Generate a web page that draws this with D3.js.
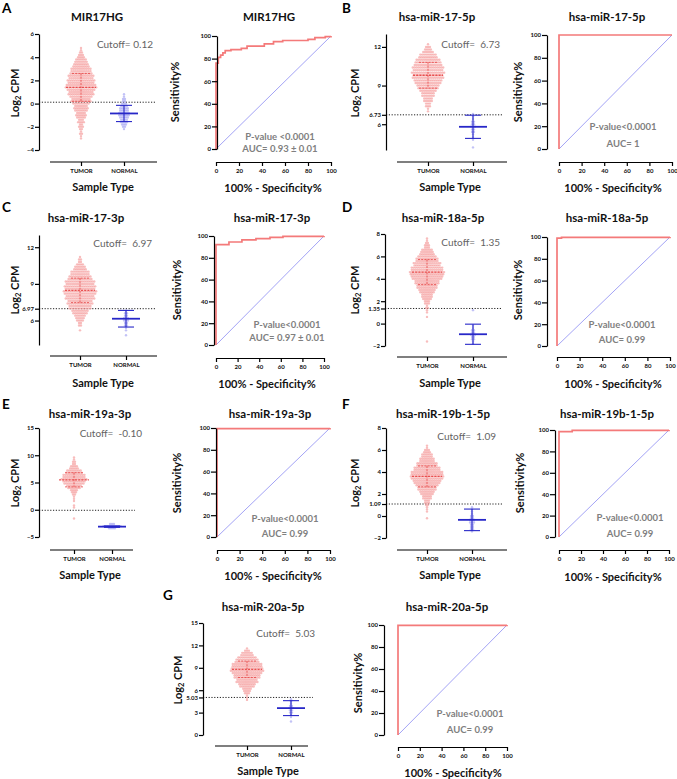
<!DOCTYPE html>
<html><head><meta charset="utf-8">
<script src="https://cdn.jsdelivr.net/npm/d3@7"></script>
<style>
body{margin:0;background:#fff;}
svg{font-family:Lato,"Open Sans",sans-serif;}
.title{font-size:11.5px;font-weight:bold;fill:#111;}
.letter{font-size:13.5px;font-weight:bold;fill:#000;}
.axlab{font-size:11px;font-weight:bold;fill:#111;}
.cut{font-size:10px;fill:#636363;white-space:pre;}
.pv{font-size:9.5px;font-weight:bold;fill:#808080;white-space:pre;}
</style></head><body>
<svg id="c" width="677" height="779"></svg>
<script>
// ---------------- DATA ----------------
const categories = ["TUMOR","NORMAL"];
const panelLetters = ["A","B","C","D","E","F","G"];
const panelNames = ["MIR17HG","hsa-miR-17-5p","hsa-miR-17-3p","hsa-miR-18a-5p","hsa-miR-19a-3p","hsa-miR-19b-1-5p","hsa-miR-20a-5p"];
const cutoffs = [0.12,6.73,6.97,1.35,-0.10,1.09,5.03];
const cutoffTexts = ["Cutoff= 0.12","Cutoff=  6.73","Cutoff=  6.97","Cutoff=  1.35","Cutoff=  -0.10","Cutoff=  1.09","Cutoff=  5.03"];
const cutoffTickLabels = [null,"6.73","6.97","1.35",null,"1.09","5.03"];
const yDomains = [[-4,6],[4,13],[4,13],[-2,8],[-5,15],[-2,8],[0,15]];
const yTickValues = [[-4,-2,0,2,4,6],[6,9,12],[6,9,12],[-2,0,2,4,6,8],[-5,0,5,10,15],[-2,0,2,4,6,8],[0,3,6,9,12,15]];
const tumorMean = [1.4,9.8,8.47,4.6,5.5,3.6,8.8];
const tumorSD = [1.2,1.0,1.0,1.12,1.3,0.95,1.1];
const normalMean = [-0.85,5.8,6.15,-0.95,-3.1,-0.35,3.6];
const normalSD = [0.7,0.9,0.68,0.9,0.12,0.98,1.0];
// binned sample counts (log2 CPM rows of the swarm)
const tumorBinStart = [-3.0,7.0,5.2,-1.6,-1.6,-0.4,4.7];
const tumorBinStep  = [0.2,0.2,0.2,0.2,0.4,0.2,0.3];
const tumorCounts = [
  [1,1,2,1,2,3,2,4,3,5,6,5,7,8,7,9,11,10,12,14,13,15,17,16,14,15,13,14,12,11,11,9,8,7,6,4,3,2,1,1],
  [1,1,3,3,5,5,7,7,9,11,12,14,15,17,16,18,16,17,15,14,13,10,9,6,4,3,1],
  [1,0,2,2,4,5,6,8,9,12,12,14,13,16,15,17,18,16,17,15,16,13,12,10,10,7,6,4,2,2,1],
  [1,0,0,0,0,0,0,0,0,0,0,1,0,1,1,2,1,3,3,5,6,6,8,9,11,11,13,13,16,17,18,19,17,17,14,15,12,12,10,8,7,6,3,3,2,1,1],
  [1,0,0,0,0,1,1,0,1,1,1,2,3,4,7,8,11,12,14,12,12,9,8,5,4,2,2,1,1],
  [0,1,0,0,1,1,1,2,3,3,5,5,7,8,10,10,12,14,15,17,18,17,17,14,14,11,11,8,8,6,6,4,3,1,1],
  [1,1,1,3,4,5,8,9,12,11,14,14,16,18,17,16,16,13,12,10,7,6,3,1]
];
const normalBinStart = [-2.2,4.2,4.8,-1.8,-3.4,-1.4,1.8];
const normalBinStep  = [0.2,0.2,0.2,0.2,0.4,0.2,0.3];
const normalCounts = [
  [1,2,3,4,4,5,6,6,5,5,4,3,2,2,1,1],
  [1,0,0,1,1,1,2,2,3,2,2,1,1,1],
  [1,0,1,1,2,2,3,3,2,2,1],
  [1,1,2,2,3,2,2,1,1,0,0,0,0,0,0,1],
  [4,10,3],
  [1,2,2,2,3,3,2,2,1,1,1,1],
  [1,0,1,1,2,2,3,2,1,1,1]
];
const rocTicks = [0,20,40,60,80,100];
const rocCurves = [
  [[0,0],[0,76],[2,76],[2,81],[4,81],[4,83],[6,83],[6,85],[8,85],[8,87],[13,87],[13,88],[22,88],[22,89],[27,89],[27,91],[42,91],[42,93],[50,93],[50,95],[58,95],[58,96],[80,96],[80,97],[86,97],[86,98.5],[95,98.5],[95,99.5],[100,99.5],[100,100]],
  [[0,0],[0,100],[100,100]],
  [[0,0],[0,92],[12,92],[12,94.5],[24,94.5],[24,96.4],[37,96.4],[37,97.6],[50,97.6],[50,98.8],[62,98.8],[62,99.7],[100,99.7],[100,100]],
  [[0,0],[0,99],[4,99],[4,99.6],[100,99.6],[100,100]],
  [[0,0],[0,99.5],[100,99.5],[100,100]],
  [[0,0],[0,98.5],[12,98.5],[12,99.7],[100,99.7],[100,100]],
  [[0,0],[0,99.6],[100,99.6],[100,100]]
];
const pValueTexts = ["P-value <0.0001","P-value<0.0001","P-value<0.0001","P-value<0.0001","P-value<0.0001","P-value<0.0001","P-value<0.0001"];
const aucTexts = ["AUC= 0.93 \u00b1 0.01","AUC= 1","AUC= 0.97 \u00b1 0.01","AUC= 0.99","AUC= 0.99","AUC= 0.99","AUC= 0.99"];

// ---------------- LAYOUT ----------------
const scatterLayout = [
  {lx:2,ly:13,tx:97,ty:21,ax:39,yT:34,yB:150,xY:162,xl0:50,xl1:157,xT:81,xN:124,slx:103,sly:191,ylx:15,yly:93,cx:153,cy:48,dotEnd:155},
  {lx:342,ly:13,tx:437,ty:21,ax:386,yT:34,yB:150,xY:162,xl0:397,xl1:507,xT:428,xN:473,slx:450,sly:191,ylx:355,yly:93,cx:500,cy:48,dotEnd:503},
  {lx:2,ly:212,tx:86,ty:222,ax:39,yT:235,yB:345,xY:356,xl0:50,xl1:157,xT:80,xN:126,slx:103,sly:387,ylx:15,yly:290,cx:152,cy:247,dotEnd:155},
  {lx:342,ly:212,tx:443,ty:222,ax:385,yT:234,yB:346,xY:357,xl0:397,xl1:507,xT:427,xN:473,slx:450,sly:387,ylx:355,yly:290,cx:500,cy:246,dotEnd:502},
  {lx:2,ly:409,tx:90,ty:418,ax:39,yT:428,yB:537,xY:550,xl0:50,xl1:133,xT:74,xN:112,slx:90,sly:579,ylx:15,yly:483,cx:142,cy:437,dotEnd:135},
  {lx:342,ly:409,tx:443,ty:418,ax:386,yT:428,yB:538,xY:550,xl0:397,xl1:507,xT:427,xN:472,slx:450,sly:579,ylx:355,yly:483,cx:496,cy:440,dotEnd:502},
  {lx:163,ly:600,tx:263,ty:611,ax:203,yT:623,yB:735,xY:746,xl0:215,xl1:308,xT:247,xN:291,slx:268,sly:775,ylx:178,yly:680,cx:315,cy:637,dotEnd:313}
];
const rocLayout = [
  {tx:269,ty:21,ax:217,yT:36,yB:149,xY:162,x0:216,x1:331,slx:273,sly:192,ylx:175,yly:92,px:280,py:140,ay:152},
  {tx:607,ty:21,ax:547,yT:35,yB:149,xY:162,x0:559,x1:672,slx:613,sly:192,ylx:518,yly:92,px:623,py:130,ay:147},
  {tx:272,ty:222,ax:214,yT:236,yB:345,xY:358,x0:216,x1:324,slx:267,sly:388,ylx:177,yly:290,px:287,py:328,ay:341},
  {tx:607,ty:222,ax:547,yT:237,yB:346,xY:357,x0:557,x1:670,slx:613,sly:388,ylx:518,yly:290,px:622,py:328,ay:343},
  {tx:270,ty:418,ax:216,yT:428,yB:537,xY:550,x0:217,x1:330,slx:273,sly:580,ylx:177,yly:483,px:285,py:522,ay:537},
  {tx:607,ty:418,ax:555,yT:430,yB:537,xY:550,x0:559,x1:669,slx:613,sly:581,ylx:520,yly:483,px:630,py:521,ay:537},
  {tx:447,ty:611,ax:384,yT:625,yB:735,xY:747,x0:398,x1:507,slx:453,sly:777,ylx:358,yly:683,px:470,py:717,ay:733}
];

const svg = d3.select("#c");
const DX = 1.9;

function styleAxis(g){
  g.attr("font-family",null).attr("font-size",6).attr("font-weight","bold");
  g.selectAll("path,line").attr("stroke","#000").attr("stroke-width",1.2);
  g.selectAll("text").attr("fill","#111");
}

function drawScatter(i){
  const L = scatterLayout[i];
  const g = svg.append("g");
  const y = d3.scaleLinear().domain(yDomains[i]).range([L.yB, L.yT]);
  const x = d3.scalePoint().domain(categories).range([L.xT, L.xN]);
  g.append("text").attr("class","letter").attr("x",L.lx).attr("y",L.ly).text(panelLetters[i]);
  g.append("text").attr("class","title").attr("x",L.tx).attr("y",L.ty).attr("text-anchor","middle").text(panelNames[i]);
  g.append("line").attr("x1",L.ax).attr("x2",L.dotEnd).attr("y1",y(cutoffs[i])).attr("y2",y(cutoffs[i]))
    .attr("stroke","#222").attr("stroke-width",1).attr("stroke-dasharray","1.2,1.6");
  const mk = (counts,start,step)=>{const a=[];counts.forEach((n,k)=>{const v=start+k*step;for(let j=0;j<n;j++)a.push({v,off:j-(n-1)/2});});return a;};
  const tp = mk(tumorCounts[i],tumorBinStart[i],tumorBinStep[i]);
  const np = mk(normalCounts[i],normalBinStart[i],normalBinStep[i]);
  g.append("g").selectAll("circle").data(tp).join("circle")
    .attr("cx",d=>x("TUMOR")+d.off*DX).attr("cy",d=>y(d.v)).attr("r",1.2)
    .attr("fill","#f59a9a").attr("fill-opacity",0.65);
  g.append("g").selectAll("circle").data(np).join("circle")
    .attr("cx",d=>x("NORMAL")+d.off*DX).attr("cy",d=>y(d.v)).attr("r",1.2)
    .attr("fill","#9a9af0").attr("fill-opacity",0.6);
  const tx = x("TUMOR"), tm=tumorMean[i], ts=tumorSD[i];
  const eb = g.append("g").attr("stroke","#e53535").attr("stroke-opacity",0.8).attr("stroke-dasharray","2,1.2");
  eb.append("line").attr("x1",tx-15).attr("x2",tx+15).attr("y1",y(tm)).attr("y2",y(tm)).attr("stroke-width",1.3);
  eb.append("line").attr("x1",tx).attr("x2",tx).attr("y1",y(tm+ts)).attr("y2",y(tm-ts)).attr("stroke-width",0.9);
  [tm+ts,tm-ts].forEach(v=>eb.append("line").attr("x1",tx-9).attr("x2",tx+9).attr("y1",y(v)).attr("y2",y(v)).attr("stroke-width",0.9));
  const nx = x("NORMAL"), nm=normalMean[i], ns=normalSD[i];
  const nb = g.append("g").attr("stroke","#2727c8");
  nb.append("line").attr("x1",nx-14).attr("x2",nx+14).attr("y1",y(nm)).attr("y2",y(nm)).attr("stroke-width",1.8);
  nb.append("line").attr("x1",nx).attr("x2",nx).attr("y1",y(nm+ns)).attr("y2",y(nm-ns)).attr("stroke-width",1.1);
  [nm+ns,nm-ns].forEach(v=>nb.append("line").attr("x1",nx-8).attr("x2",nx+8).attr("y1",y(v)).attr("y2",y(v)).attr("stroke-width",1.1));
  const tv = yTickValues[i].slice(); if(cutoffTickLabels[i]) tv.push(cutoffs[i]);
  const ya = d3.axisLeft(y).tickValues(tv).tickSize(4).tickSizeOuter(0).tickPadding(1)
    .tickFormat(d=> (cutoffTickLabels[i] && d===cutoffs[i]) ? cutoffTickLabels[i] : d3.format("d")(d));
  const yg = g.append("g").attr("transform",`translate(${L.ax},0)`).call(ya); styleAxis(yg);
  const xa = d3.axisBottom(x).tickSize(4).tickSizeOuter(0).tickPadding(3);
  const xg = g.append("g").attr("transform",`translate(0,${L.xY})`).call(xa);
  xg.select(".domain").remove();
  xg.append("line").attr("x1",L.xl0).attr("x2",L.xl1);
  styleAxis(xg);
  g.append("text").attr("class","axlab").attr("x",L.slx).attr("y",L.sly).attr("text-anchor","middle").text("Sample Type");
  const yl = g.append("text").attr("class","axlab").attr("text-anchor","middle")
    .attr("transform",`translate(${L.ylx},${L.yly}) rotate(-90)`).attr("dy","0.35em");
  yl.append("tspan").text("Log");
  yl.append("tspan").attr("font-size","7.5px").attr("dy","2.5").text("2");
  yl.append("tspan").attr("dy","-2.5").text(" CPM");
  g.append("text").attr("class","cut").attr("x",L.cx).attr("y",L.cy).attr("text-anchor","end").text(cutoffTexts[i]);
}

function drawROC(i){
  const L = rocLayout[i];
  const g = svg.append("g");
  const x = d3.scaleLinear().domain([0,100]).range([L.x0,L.x1]);
  const y = d3.scaleLinear().domain([0,100]).range([L.yB,L.yT]);
  g.append("text").attr("class","title").attr("x",L.tx).attr("y",L.ty).attr("text-anchor","middle").text(panelNames[i]);
  g.append("path").datum([[0,0],[100,100]]).attr("fill","none")
    .attr("stroke","#8c8cf2").attr("stroke-width",0.8)
    .attr("d",d3.line().x(d=>x(d[0])).y(d=>y(d[1])));
  g.append("path").datum(rocCurves[i]).attr("fill","none").attr("stroke","#f47a7a").attr("stroke-width",1.7)
    .attr("d",d3.line().x(d=>x(d[0])).y(d=>y(d[1])));
  const ya = d3.axisLeft(y).tickValues(rocTicks).tickSize(5).tickSizeOuter(0).tickPadding(1);
  const yg = g.append("g").attr("transform",`translate(${L.ax},0)`).call(ya); styleAxis(yg);
  const xa = d3.axisBottom(x).tickValues(rocTicks).tickSize(4).tickSizeOuter(0).tickPadding(3);
  const xg = g.append("g").attr("transform",`translate(0,${L.xY})`).call(xa); styleAxis(xg);
  g.append("text").attr("class","axlab").attr("x",L.slx).attr("y",L.sly).attr("text-anchor","middle").text("100% - Specificity%");
  g.append("text").attr("class","axlab").attr("text-anchor","middle")
    .attr("transform",`translate(${L.ylx},${L.yly}) rotate(-90)`).attr("dy","0.35em").text("Sensitivity%");
  g.append("text").attr("class","pv").attr("x",L.px).attr("y",L.py).attr("text-anchor","middle").text(pValueTexts[i]);
  g.append("text").attr("class","pv").attr("x",L.px).attr("y",L.ay).attr("text-anchor","middle").text(aucTexts[i]);
}

for(let i=0;i<7;i++){ drawScatter(i); drawROC(i); }
</script></body></html>
